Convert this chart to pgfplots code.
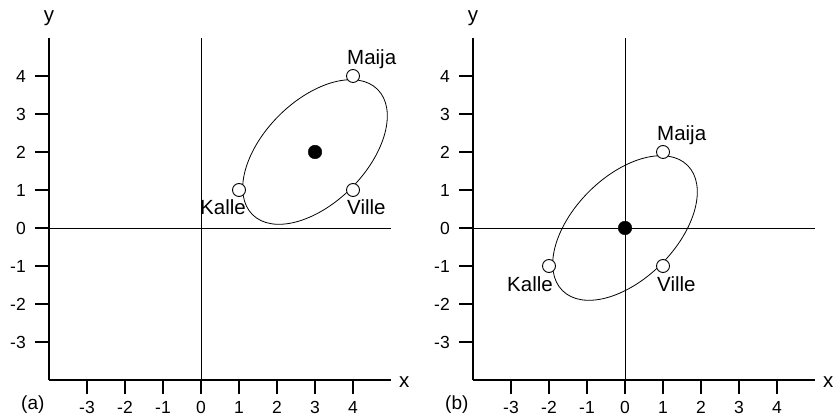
\documentclass[border=0pt]{standalone}
\usepackage{pgfplots}
\pgfplotsset{compat=1.18}
\usepackage{fontspec}
\setmainfont{Liberation Sans}

\pgfplotsset{
  panel/.style={
    x=38pt, y=38pt,
    xmin=-4, xmax=5, ymin=-4, ymax=5,
    enlargelimits=false, clip=false,
    axis x line=bottom, axis y line=left,
    axis line style={-, line width=1.1pt},
    xtick={-3,...,4}, ytick={-3,...,4},
    tick align=outside, major tick length=14pt,
    tick style={black, line width=1.1pt},
    /pgf/number format/assume math mode=true,
    tick label style={font=\fontsize{17.5}{20}\selectfont, inner sep=0pt},
    xticklabel style={anchor=north, yshift=-7.5pt},
    yticklabel style={anchor=east, xshift=-9pt},
    xlabel={x}, ylabel={y},
    every axis x label/.style={at={(axis description cs:1,0)}, anchor=base west,
      xshift=8pt, yshift=-7pt, inner sep=0pt, font=\fontsize{20.5}{24}\selectfont},
    every axis y label/.style={at={(axis description cs:0,1)}, anchor=base,
      yshift=16pt, inner sep=0pt, font=\fontsize{20.5}{24}\selectfont},
    anchor=south west,
  },
  zeroline/.style={black, line width=0.8pt, no markers},
  obs/.style={only marks, mark=*, mark size=6.5pt,
    mark options={fill=white, draw=black, line width=0.9pt}},
  centroid/.style={only marks, mark=*, mark size=6.8pt,
    mark options={fill=black, draw=black}},
}
\newcommand{\namefont}{\fontsize{20.5}{24}\selectfont}

\begin{document}
\begin{tikzpicture}
\useasboundingbox (0,0) rectangle (834pt,417pt);

% (a) raw scores
\begin{axis}[panel, at={(49pt,37pt)}]
  \addplot[zeroline] coordinates {(-4,0) (5,0)};
  \addplot[zeroline] coordinates {(0,-4) (0,5)};
  \draw[line width=0.8pt, rotate around={45:(axis cs:3,2)}]
    (axis cs:3,2) ellipse [x radius=88.5pt, y radius=51.2pt];
  \addplot[obs] coordinates {(1,1) (4,4) (4,1)};
  \addplot[centroid] coordinates {(3,2)};
  \node[anchor=base west, xshift=-6pt, yshift=11pt, inner sep=0pt, font=\namefont] at (axis cs:4,4) {Maija};
  \node[anchor=base east, xshift=7pt, yshift=-25pt, inner sep=0pt, font=\namefont] at (axis cs:1,1) {Kalle};
  \node[anchor=base west, xshift=-6pt, yshift=-25pt, inner sep=0pt, font=\namefont] at (axis cs:4,1) {Ville};
  \node[anchor=base west, xshift=-28pt, yshift=-29pt, inner sep=0pt, font=\fontsize{19}{22}\selectfont] at (axis description cs:0,0) {(a)};
\end{axis}

% (b) centred scores
\begin{axis}[panel, at={(473pt,37pt)}]
  \addplot[zeroline] coordinates {(-4,0) (5,0)};
  \addplot[zeroline] coordinates {(0,-4) (0,5)};
  \draw[line width=0.8pt, rotate around={45:(axis cs:0,0)}]
    (axis cs:0,0) ellipse [x radius=88.5pt, y radius=51.2pt];
  \addplot[obs] coordinates {(-2,-1) (1,2) (1,-1)};
  \addplot[centroid] coordinates {(0,0)};
  \node[anchor=base west, xshift=-6pt, yshift=11pt, inner sep=0pt, font=\namefont] at (axis cs:1,2) {Maija};
  \node[anchor=base east, xshift=4pt, yshift=-26pt, inner sep=0pt, font=\namefont] at (axis cs:-2,-1) {Kalle};
  \node[anchor=base west, xshift=-6pt, yshift=-26pt, inner sep=0pt, font=\namefont] at (axis cs:1,-1) {Ville};
  \node[anchor=base west, xshift=-28pt, yshift=-29pt, inner sep=0pt, font=\fontsize{19}{22}\selectfont] at (axis description cs:0,0) {(b)};
\end{axis}
\end{tikzpicture}
\end{document}
